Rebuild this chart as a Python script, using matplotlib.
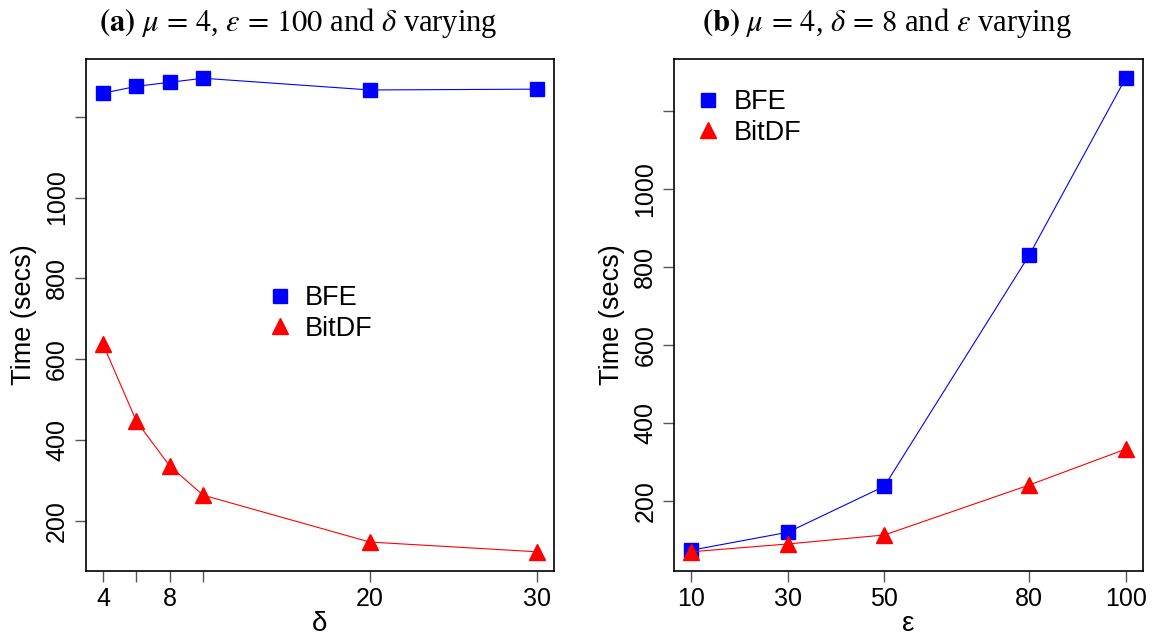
import matplotlib
matplotlib.use("Agg")
import matplotlib.pyplot as plt
from matplotlib.lines import Line2D

# ---- data ----
delta_vals = [4, 6, 8, 10, 20, 30]
bfe_delta = [1258, 1275, 1285, 1295, 1266, 1268]
bitdf_delta = [637, 447, 336, 264, 148, 124]

eps_vals = [10, 30, 50, 80, 100]
bfe_eps = [74, 120, 238, 830, 1284]
bitdf_eps = [70, 90, 113, 241, 333]

yticks = [200, 400, 600, 800, 1000, 1200]
ytick_labels = ["200", "400", "600", "800", "1000", ""]
xticks_a = [4, 6, 8, 10, 20, 30]
xtick_labels_a = ["4", "", "8", "", "20", "30"]
xticks_b = [10, 30, 50, 80, 100]
xtick_labels_b = ["10", "30", "50", "80", "100"]

series_names = ["BFE", "BitDF"]

plt.rcParams["font.family"] = ["Liberation Sans", "DejaVu Sans"]
plt.rcParams["mathtext.fontset"] = "stix"

W, H = 1157, 636
fig = plt.figure(figsize=(W / 100, H / 100), dpi=100)

def px_axes(l, t, r, b):
    return fig.add_axes([l / W, 1 - b / H, (r - l) / W, (b - t) / H])

axA = px_axes(85.7, 59.3, 554, 570.7)
axB = px_axes(674, 59.3, 1143, 570.7)

BLUE = "#0000FF"
RED = "#FF0000"

def style(ax, xt, xtl, xlabel):
    ax.set_xticks(xt)
    ax.set_xticklabels(xtl)
    ax.set_yticks(yticks)
    ax.set_yticklabels(ytick_labels, rotation=90, va="center")
    ax.tick_params(axis="both", direction="out", length=8, width=1,
                   color="#555555", labelsize=18, pad=4)
    for sp in ax.spines.values():
        sp.set_linewidth(1.2)
        sp.set_color("black")
    ax.set_xlabel(xlabel, fontsize=20, labelpad=0)
    ax.set_ylabel("Time (secs)", fontsize=19.5, labelpad=6)

def margins(vals, frac=0.04):
    lo, hi = min(vals), max(vals)
    d = (hi - lo) * frac
    return lo - d, hi + d

# panel a
axA.plot(delta_vals, bfe_delta, color=BLUE, lw=0.8, marker="s", ms=9.5,
         mec=BLUE, mfc=BLUE, label=series_names[0])
axA.plot(delta_vals, bitdf_delta, color=RED, lw=0.8, marker="^", ms=11,
         mec=RED, mfc=RED, label=series_names[1])
axA.set_xlim(*margins(delta_vals))
axA.set_ylim(*margins(bfe_delta + bitdf_delta))
style(axA, xticks_a, xtick_labels_a, "δ")

# panel b
axB.plot(eps_vals, bfe_eps, color=BLUE, lw=0.8, marker="s", ms=9.5,
         mec=BLUE, mfc=BLUE, label=series_names[0])
axB.plot(eps_vals, bitdf_eps, color=RED, lw=0.8, marker="^", ms=11,
         mec=RED, mfc=RED, label=series_names[1])
axB.set_xlim(*margins(eps_vals))
axB.set_ylim(*margins(bfe_eps + bitdf_eps))
style(axB, xticks_b, xtick_labels_b, "ε")

handles = [Line2D([], [], ls="none", marker="s", ms=9.5, color=BLUE),
           Line2D([], [], ls="none", marker="^", ms=11, color=RED)]

def add_legend(ax, x, y):
    ax.legend(handles, series_names, loc="upper left",
              bbox_to_anchor=(x / W, 1 - y / H), bbox_transform=fig.transFigure,
              frameon=False, fontsize=19.5, handlelength=0.95, handletextpad=0.45,
              labelspacing=0.18, borderaxespad=0, borderpad=0)

add_legend(axA, 267, 285)
add_legend(axB, 695.5, 89)

fig.text(298 / W, 1 - 23 / H,
         r"$\mathbf{(a)}$ $\mu\,=\,4$, $\varepsilon\,=\,100$ and $\delta$ varying",
         ha="center", va="center", fontsize=22, family="Liberation Serif")
fig.text(887 / W, 1 - 23 / H,
         r"$\mathbf{(b)}$ $\mu\,=\,4$, $\delta\,=\,8$ and $\varepsilon$ varying",
         ha="center", va="center", fontsize=22, family="Liberation Serif")

fig.savefig("out.png", dpi=100)
